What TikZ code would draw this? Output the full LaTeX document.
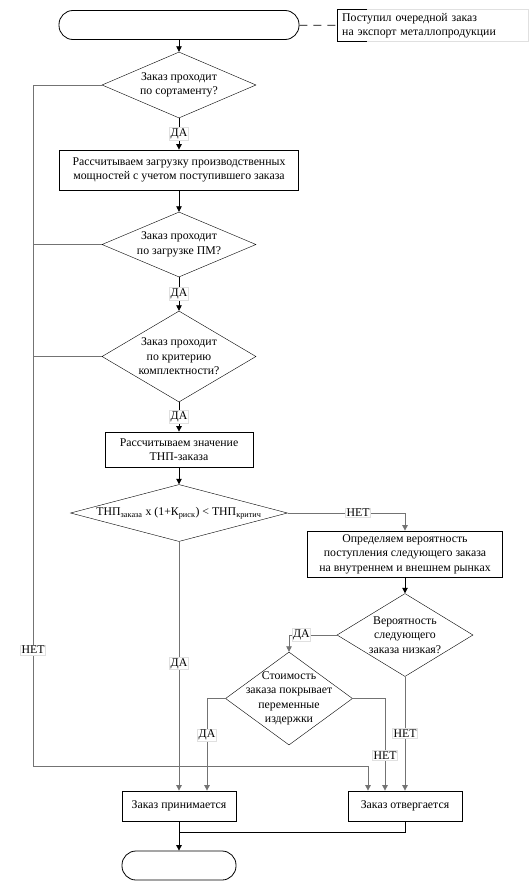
\documentclass[tikz,border=0pt]{standalone}
\usepackage{fontspec}
\setmainfont{Liberation Serif}
\usetikzlibrary{shapes.geometric,arrows.meta}

\begin{document}
\begin{tikzpicture}[x=1pt,y=-1pt,
	font=\fontsize{11.8}{14.5}\selectfont,
	term/.style={shape=rectangle,draw=black,rounded corners=14pt,minimum height=29pt},
	box/.style={shape=rectangle,draw=black,align=center,inner sep=0pt},
	dec/.style={shape=diamond,draw=black,inner sep=0pt},
	txt/.style={align=center,inner sep=0pt},
	lbl/.style={fill=white,draw=black!12,inner sep=1pt},
	arr/.style={-{Triangle[length=5.5pt,width=5.5pt]},line width=0.8pt},
	garr/.style={arr,draw=black!55},
	gline/.style={line width=0.8pt,draw=black!55}]
	\useasboundingbox (0,0) rectangle (530,883);
	
	\node[term,line width=0.8pt,minimum width=240pt] (start) at (179,25) {};
	\node[draw=black!12,text width=181pt,inner xsep=5pt,align=left,minimum height=29pt,anchor=west] (note) at (337,25.5)
		{Поступил очередной заказ\\на экспорт металлопродукции};
	
	\node[dec,minimum width=154pt,minimum height=66pt] (d1) at (179,85) {};
	\node[txt] (d1t) at (d1) {Заказ проходит\\по сортаменту?};
	\node[box,line width=0.8pt,minimum width=239pt,minimum height=40pt] (b1) at (179,170)
		{Рассчитываем загрузку производственных\\мощностей с учетом поступившего заказа};
	\node[dec,minimum width=154pt,minimum height=65pt] (d2) at (179,244.5) {};
	\node[txt] (d2t) at (d2) {Заказ проходит\\по загрузке ПМ?};
	\node[dec,minimum width=154pt,minimum height=91pt] (d3) at (179,356.5) {};
	\node[txt] (d3t) at (d3) {Заказ проходит\\по критерию\\комплектности?};
	\node[box,line width=0.8pt,minimum width=148pt,minimum height=35pt] (b2) at (179,449.5)
		{Рассчитываем значение\\ТНП-заказа};
	\node[dec,minimum width=217pt,minimum height=57pt] (d4) at (179,513) {};
	\node[txt] (d4t) at (d4)
		{ТНП\textsubscript{заказа} х (1+К\textsubscript{риск}) < ТНП\textsubscript{критич}};
	\node[box,line width=0.8pt,minimum width=195pt,minimum height=46pt] (b3) at (405,554)
		{Определяем вероятность\\поступления следующего заказа\\на внутреннем и внешнем рынках};
	\node[dec,minimum width=136pt,minimum height=83pt] (d5) at (405,635) {};
	\node[txt] (d5t) at (d5) {Вероятность\\следующего\\заказа низкая?};
	\node[dec,minimum width=127pt,minimum height=93pt] (d6) at (289,698.5) {};
	\node[txt] (d6t) at (d6) {Стоимость\\заказа покрывает\\переменные\\издержки};
	\node[box,line width=0.8pt,minimum width=114pt,minimum height=30pt] (acc) at (179,806) {Заказ принимается};
	\node[box,line width=0.8pt,minimum width=114pt,minimum height=30pt] (rej) at (405,806) {Заказ отвергается};
	\node[term,line width=0.8pt,minimum width=114pt] (stop) at (179,865.5) {};
	
	\coordinate (nl) at (33,766);
	\coordinate (jn) at (179,832);
	
	\draw[line width=0.8pt,dash pattern=on 8pt off 6pt] (start) -- (note);
	\draw[line width=0.8pt] ([xshift=30pt]note.north west) -- (note.north west)
		-- (note.south west) -- ([xshift=30pt]note.south west);
	
	\draw[arr] (start) -- (d1);
	\draw[arr] (d1) -- node[lbl] (y1) {ДА} (b1);
	\draw[arr] (b1) -- (d2);
	\draw[arr] (d2) -- node[lbl] (y2) {ДА} (d3);
	\draw[arr] (d3) -- node[lbl] (y3) {ДА} (b2);
	\draw[arr] (b2) -- (d4);
	
	\draw[garr] (d1.west) -| (nl) -| ([xshift=-37pt]rej.north);
	\draw[gline] (d2.west) -- (d2.west -| nl);
	\draw[gline] (d3.west) -- (d3.west -| nl);
	\node[lbl] (n1) at (33,650) {НЕТ};
	
	\draw[garr] (d4.east) -| node[lbl,pos=0.3] (n2) {НЕТ} (b3);
	\draw[arr] (b3) -- (d5);
	\draw[garr] (d5.west) -| node[lbl,pos=0.37] (y4) {ДА} (d6);
	\draw[garr] (d4) -- node[lbl,pos=0.49] (y5) {ДА} (acc);
	\draw[garr] (d6.west) -| node[lbl,pos=0.7] (y6) {ДА} ([xshift=28pt]acc.north);
	\draw[garr] (d6.east) -| node[lbl,pos=0.81] (n3) {НЕТ} ([xshift=-20pt]rej.north);
	\draw[garr] (d5) -- node[lbl] (n4) {НЕТ} (rej);
	
	\draw[line width=0.8pt] (rej) |- (jn);
	\draw[arr] (acc) -- (stop);
	
\end{tikzpicture}
\end{document}
